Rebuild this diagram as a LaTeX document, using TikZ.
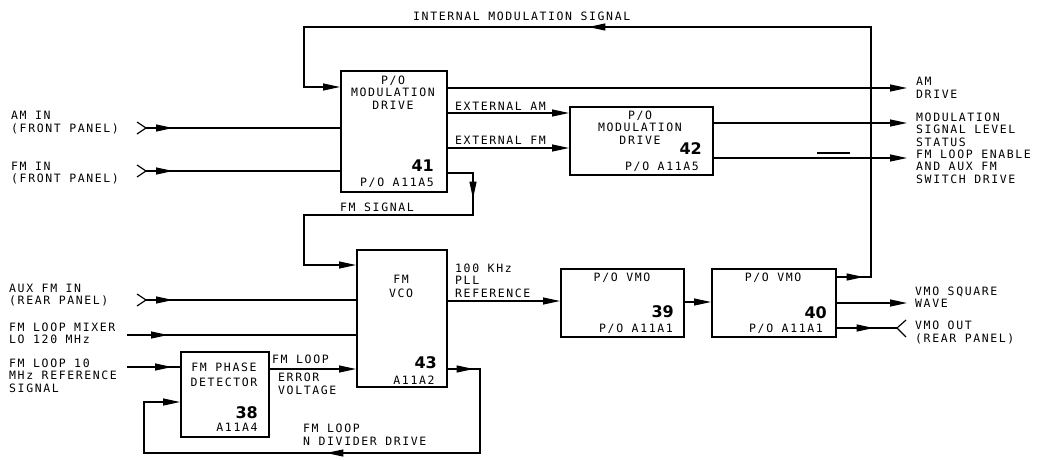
\documentclass[tikz,border=0pt]{standalone}
\usepackage{fontspec}
\usetikzlibrary{arrows.meta,decorations.markings}
\newfontfamily\lero[LetterSpace=14]{DejaVu Sans Mono}
\newfontfamily\numf{DejaVu Sans}
\begin{document}
\begin{tikzpicture}[x=1pt,y=-1pt,
  >={Triangle[length=17pt,width=7pt]},
  wire/.style={line width=1.2pt},
  blk/.style={draw, line width=1.6pt, inner sep=0pt, anchor=north west},
  lbl/.style={font=\lero\fontsize{11.5}{12.5}\selectfont, inner sep=0pt, align=left, anchor=base west},
  ilbl/.style={font=\lero\fontsize{11.5}{12.5}\selectfont, inner sep=0pt, align=center, anchor=base},
  num/.style={font=\numf\bfseries\fontsize{16}{16}\selectfont, inner sep=0pt, anchor=base east},
  marr/.style={postaction={decorate,decoration={markings,mark=at position #1 with {\arrow{>}}}}},
  jack/.style={line width=1.2pt}
]
\fill[white] (0,0) rectangle (1042,459);
\useasboundingbox (0,0) rectangle (1042,459);

% blocks
\node[blk, minimum width=106pt, minimum height=121pt] (b41) at (340,70) {};
\node[blk, minimum width=143pt, minimum height=68pt] (b42) at (569,106) {};
\node[blk, minimum width=90pt, minimum height=137pt] (b43) at (356,249) {};
\node[blk, minimum width=88pt, minimum height=85pt] (b38) at (180,351) {};
\node[blk, minimum width=123pt, minimum height=68pt] (b39) at (560,268) {};
\node[blk, minimum width=124pt, minimum height=68pt] (b40) at (711,268) {};

% block texts (base anchor = baseline of the last line)
\node[ilbl] (t41) at (393,109) {P/O\\MODULATION\\DRIVE};
\node[num] (n41) at (434,171) {41};
\node[ilbl] (d41) at (397,186) {P/O A11A5};
\node[ilbl] (t42) at (640,144) {P/O\\MODULATION\\DRIVE};
\node[num] (n42) at (702,154) {42};
\node[ilbl] (d42) at (662,170) {P/O A11A5};
\node[ilbl] (t43) at (401,297) {FM\\[1.5pt]VCO};
\node[num] (n43) at (437,368) {43};
\node[ilbl] (d43) at (414,384) {A11A2};
\node[ilbl] (t38) at (224,386) {FM PHASE\\[2pt]DETECTOR};
\node[num] (n38) at (258,418) {38};
\node[ilbl] (d38) at (237,431) {A11A4};
\node[ilbl] (t39) at (622,281) {P/O VMO};
\node[num] (n39) at (674,317) {39};
\node[ilbl] (d39) at (636,332) {P/O A11A1};
\node[ilbl] (t40) at (773,281) {P/O VMO};
\node[num] (n40) at (827,318) {40};
\node[ilbl] (d40) at (786,332) {P/O A11A1};

% outside labels (base anchor = baseline of the last line)
\node[lbl] (lim) at (413,20) {INTERNAL MODULATION SIGNAL};
\node[lbl] (lamin) at (11,132) {AM IN\\(FRONT PANEL)};
\node[lbl] (lfmin) at (11,182.5) {FM IN\\(FRONT PANEL)};
\node[lbl] (laux) at (9,304.5) {AUX FM IN\\(REAR PANEL)};
\node[lbl] (lmix) at (9,343.5) {FM LOOP MIXER\\LO 120 MHz};
\node[lbl] (lref) at (9,392) {FM LOOP 10\\MHz REFERENCE\\SIGNAL};
\node[lbl] (lexam) at (455,110) {EXTERNAL AM};
\node[lbl] (lexfm) at (455,144) {EXTERNAL FM};
\node[lbl] (lfmsig) at (340,211) {FM SIGNAL};
\node[lbl] (lamdr) at (916,98.5) {AM\\[1pt]DRIVE};
\node[lbl] (lstat) at (916,146) {MODULATION\\SIGNAL LEVEL\\STATUS};
\node[lbl] (lena) at (916,183) {FM LOOP ENABLE\\AND AUX FM\\SWITCH DRIVE};
\node[lbl] (lpll) at (455,297) {100 KHz\\PLL\\REFERENCE};
\node[lbl] (lerr1) at (272,363) {FM LOOP};
\node[lbl] (lerr2) at (278,394) {ERROR\\VOLTAGE};
\node[lbl] (ldiv) at (303,445) {FM LOOP\\N DIVIDER DRIVE};
\node[lbl] (lsq) at (915,307.5) {VMO SQUARE\\WAVE};
\node[lbl] (lout) at (915,342) {VMO OUT\\(REAR PANEL)};

% jacks and free ends
\coordinate (amin) at (146,128);
\coordinate (fmin) at (146,171);
\coordinate (auxin) at (146,300);
\coordinate (mixin) at (127,335);
\coordinate (refin) at (127,367);
\coordinate (amdr) at (907,88);
\coordinate (stat) at (907,123);
\coordinate (ena) at (907,158);
\coordinate (sq) at (907,303);
\coordinate (vout) at (897,328);
\draw[jack] (137,122) -- (amin) -- (137,134);
\draw[jack] (137,165) -- (fmin) -- (137,177);
\draw[jack] (137,294) -- (auxin) -- (137,306);
\draw[jack] (906,320) -- (vout) -- (906,337);

% connectors
\draw[wire, marr=27pt] (amin) -- (b41.west |- amin);
\draw[wire, marr=27pt] (fmin) -- (b41.west |- fmin);
\draw[wire, ->, marr=27pt, marr=567pt] (b40.east |- 0,277) -- (871,277) -- (871,27) -- (304,27) -- (304,87) -- (b41.west |- 0,87);
\draw[wire, ->] (b41.east |- amdr) -- (amdr);
\draw[wire, ->] (b41.east |- 0,113) -- (b42.west |- 0,113);
\draw[wire, ->] (b41.east |- 0,148) -- (b42.west |- 0,148);
\draw[wire, ->] (b42.east |- stat) -- (stat);
\draw[wire, ->] (b42.east |- ena) -- (ena);
\draw[wire] (817,153) -- (850,153);
\draw[wire, ->, marr=51pt] (b41.east |- 0,173) -- (473,173) -- (473,215) -- (304,215) -- (304,265) -- (b43.west |- 0,265);
\draw[wire, marr=27pt] (auxin) -- (b43.west |- auxin);
\draw[wire, marr=41pt] (mixin) -- (b43.west |- mixin);
\draw[wire, marr=45pt] (refin) -- (b38.west |- refin);
\draw[wire, ->] (b38.east |- 0,369) -- (b43.west |- 0,369);
\draw[wire, ->, marr=26pt, marr=270pt] (b43.east |- 0,369) -- (480,369) -- (480,453) -- (144,453) -- (144,402) -- (b38.west |- 0,402);
\draw[wire, ->] (b43.east |- 0,301) -- (b39.west |- 0,301);
\draw[wire, ->] (b39.east |- 0,302) -- (b40.west |- 0,302);
\draw[wire, ->] (b40.east |- sq) -- (sq);
\draw[wire, marr=37pt] (b40.east |- vout) -- (vout);
\end{tikzpicture}
\end{document}
